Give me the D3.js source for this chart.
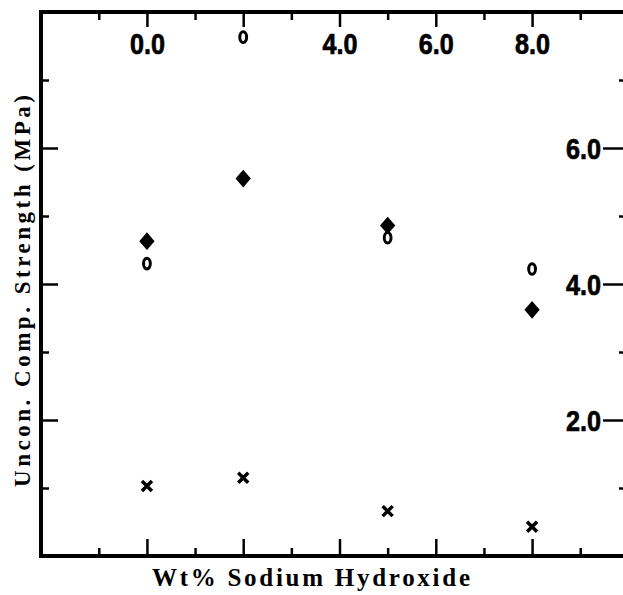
<!DOCTYPE html>
<html>
<head>
<meta charset="utf-8">
<script src="https://cdnjs.cloudflare.com/ajax/libs/d3/7.8.5/d3.min.js"></script>
<style>
  body { margin: 0; background: #fff; }
</style>
</head>
<body>
<div id="chart"></div>
<script>
// data
var naoh = [0, 2, 5, 8];                       // wt% sodium hydroxide
var diamondVals = [4.63, 5.55, 4.86, 3.62];    // filled diamonds
var circleVals = [4.30, 7.63, 4.68, 4.22];     // "o" markers
var crossVals = [1.03, 1.15, 0.66, 0.43];      // "x" markers

var xMajor = [0, 2, 4, 6, 8];
var xMinor = [-1, 1, 3, 5, 7, 9];
var topLabels = ["0.0", "", "4.0", "6.0", "8.0"];
var yMajor = [2, 4, 6];
var yMinor = [1, 3, 5, 7];
var rightLabels = ["2.0", "4.0", "6.0"];

var W = 623, H = 595;
var numFont = "'Liberation Sans Narrow', 'Liberation Sans', Arial, sans-serif";
var serifFont = "'Liberation Serif', 'DejaVu Serif', serif";

var x = d3.scaleLinear().domain([-2.2, 10.2]).range([41, 638]);
var y = d3.scaleLinear().domain([0, 8]).range([556, 12]);

var svg = d3.select("#chart").append("svg")
    .attr("width", W)
    .attr("height", H);

// frame lines (right edge falls outside the picture)
svg.append("line").attr("x1", x(-2.2)).attr("x2", x(-2.2)).attr("y1", y(8) - 2).attr("y2", y(0) + 2)
    .attr("stroke", "#000").attr("stroke-width", 4);
svg.append("line").attr("x1", x(-2.2) - 2).attr("x2", W + 20).attr("y1", y(8)).attr("y2", y(8))
    .attr("stroke", "#000").attr("stroke-width", 4);
svg.append("line").attr("x1", x(-2.2) - 2).attr("x2", W + 20).attr("y1", y(0)).attr("y2", y(0))
    .attr("stroke", "#000").attr("stroke-width", 4);

function styleAxis(g) {
  g.select(".domain").remove();
  g.selectAll(".tick line").attr("stroke", "#000").attr("stroke-width", 2.5);
}

function styleLabels(g) {
  g.selectAll(".tick text")
    .attr("fill", "#000")
    .attr("stroke", "#000").attr("stroke-width", 0.7)
    .attr("font-family", numFont)
    .attr("font-weight", "bold")
    .attr("font-size", 29)
    .attr("textLength", function() { return this.textContent.length ? 35 : null; })
    .attr("lengthAdjust", "spacingAndGlyphs");
}

// bottom ticks (inward)
svg.append("g").attr("transform", "translate(0," + y(0) + ")")
    .call(d3.axisBottom(x).tickValues(xMajor).tickSize(-17).tickFormat(""))
    .call(styleAxis);
svg.append("g").attr("transform", "translate(0," + y(0) + ")")
    .call(d3.axisBottom(x).tickValues(xMinor).tickSize(-8).tickFormat(""))
    .call(styleAxis);

// top ticks (inward) with labels inside the frame
svg.append("g").attr("transform", "translate(0," + y(8) + ")")
    .call(d3.axisTop(x).tickValues(xMajor).tickSize(-15)
      .tickFormat(function(d, i) { return topLabels[i]; }))
    .call(styleAxis)
    .call(styleLabels)
    .call(function(g) { g.selectAll(".tick text").attr("y", 42).attr("dy", 0); });
svg.append("g").attr("transform", "translate(0," + y(8) + ")")
    .call(d3.axisTop(x).tickValues(xMinor).tickSize(-8).tickFormat(""))
    .call(styleAxis);

// left ticks (inward)
svg.append("g").attr("transform", "translate(" + x(-2.2) + ",0)")
    .call(d3.axisLeft(y).tickValues(yMajor).tickSize(-17).tickFormat(""))
    .call(styleAxis);
svg.append("g").attr("transform", "translate(" + x(-2.2) + ",0)")
    .call(d3.axisLeft(y).tickValues(yMinor).tickSize(-8).tickFormat(""))
    .call(styleAxis);

// right ticks (inward from the cut-off edge) with labels
svg.append("g").attr("transform", "translate(" + x(10.2) + ",0)")
    .call(d3.axisRight(y).tickValues(yMajor).tickSize(-35)
      .tickFormat(function(d, i) { return rightLabels[i]; }))
    .call(styleAxis)
    .call(styleLabels)
    .call(function(g) {
      g.selectAll(".tick text").attr("x", -37).attr("dy", "0.35em").attr("text-anchor", "end");
    });
svg.append("g").attr("transform", "translate(" + x(10.2) + ",0)")
    .call(d3.axisRight(y).tickValues(yMinor).tickSize(-19).tickFormat(""))
    .call(styleAxis);

// markers
var diamond = d3.symbol().type(d3.symbolDiamond).size(90);
svg.selectAll(".dia").data(naoh).enter().append("path")
    .attr("class", "dia")
    .attr("d", diamond)
    .attr("transform", function(d, i) { return "translate(" + x(d) + "," + y(diamondVals[i]) + ") scale(1.5,1)"; })
    .attr("fill", "#000");

svg.selectAll(".circ").data(naoh).enter().append("ellipse")
    .attr("class", "circ")
    .attr("cx", function(d) { return x(d); })
    .attr("cy", function(d, i) { return y(circleVals[i]); })
    .attr("rx", 3.4).attr("ry", 5.3)
    .attr("fill", "#fff").attr("stroke", "#000").attr("stroke-width", 3);

svg.selectAll(".crs").data(naoh).enter().append("path")
    .attr("class", "crs")
    .attr("d", "M-5,-5L5,5M5,-5L-5,5")
    .attr("transform", function(d, i) { return "translate(" + x(d) + "," + y(crossVals[i]) + ")"; })
    .attr("stroke", "#000").attr("stroke-width", 3.5).attr("fill", "none");

// axis titles
svg.append("text")
    .attr("x", 311).attr("y", 586)
    .attr("text-anchor", "middle")
    .attr("font-family", serifFont).attr("font-weight", "bold")
    .attr("font-size", 25)
    .attr("textLength", 318).attr("lengthAdjust", "spacing")
    .text("Wt% Sodium Hydroxide");

svg.append("text")
    .attr("transform", "translate(30,291) rotate(-90)")
    .attr("text-anchor", "middle")
    .attr("font-family", serifFont).attr("font-weight", "bold")
    .attr("font-size", 23)
    .attr("textLength", 392).attr("lengthAdjust", "spacing")
    .text("Uncon. Comp. Strength (MPa)");
</script>
</body>
</html>
